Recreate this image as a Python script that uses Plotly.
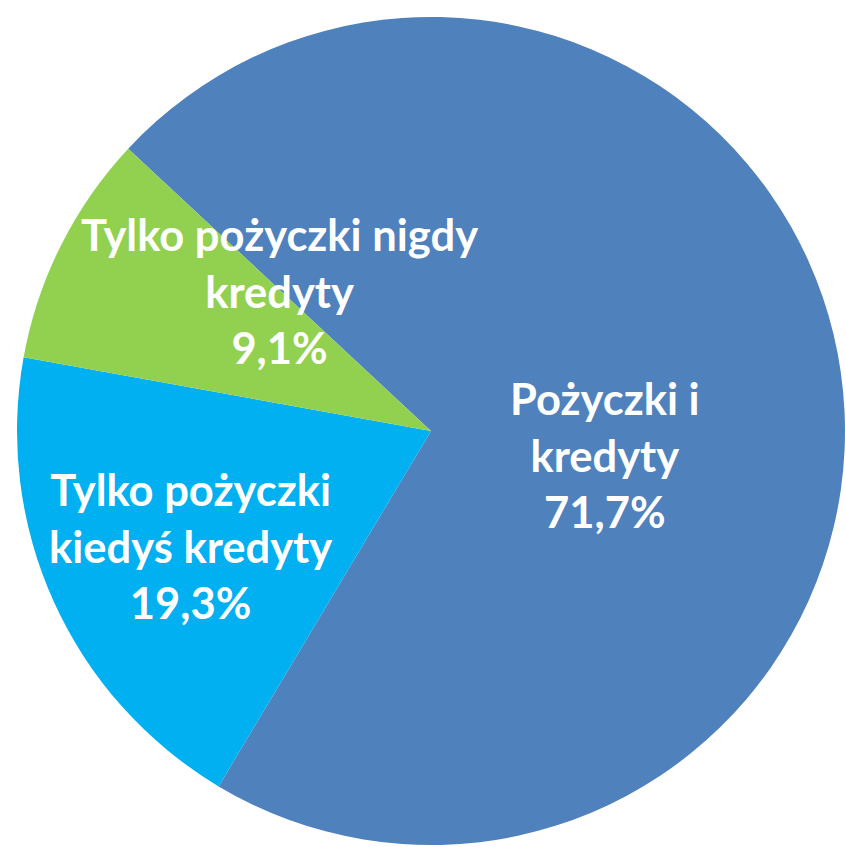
import plotly.graph_objects as go

labels = ["Pożyczki i kredyty", "Tylko pożyczki kiedyś kredyty", "Tylko pożyczki nigdy kredyty"]
values = [71.7, 19.3, 9.1]
label_text = ["Pożyczki i<br>kredyty<br>71,7%",
              "Tylko pożyczki<br>kiedyś kredyty<br>19,3%",
              "Tylko pożyczki nigdy<br>kredyty<br>9,1%"]
colors = ["#4F81BD", "#00B0F0", "#92D050"]
label_pos = [(605, 454), (190, 545), (279, 290)]  # pixel centres of labels

W, H = 846, 847

fig = go.Figure(go.Pie(
    labels=labels, values=values, sort=False, direction="clockwise",
    rotation=313, textinfo="none", hoverinfo="label+percent",
    marker=dict(colors=colors, line=dict(width=0)),
    domain=dict(x=[17 / W, 845 / W], y=[1 - 845 / H, 1 - 17 / H]),
    showlegend=False,
))

for txt, (px, py) in zip(label_text, label_pos):
    fig.add_annotation(x=px / W, y=1 - py / H, xref="paper", yref="paper",
                       text=f"<b>{txt}</b>", showarrow=False,
                       xanchor="center", yanchor="middle", align="center",
                       font=dict(family="Lato", size=43.5, color="white"))

fig.update_layout(width=W, height=H, margin=dict(l=0, r=0, t=0, b=0),
                  paper_bgcolor="white", plot_bgcolor="white")
fig.write_html("out.html", config={"displayModeBar": False},
               post_script="document.body.style.margin='0';document.body.style.overflow='hidden';")
